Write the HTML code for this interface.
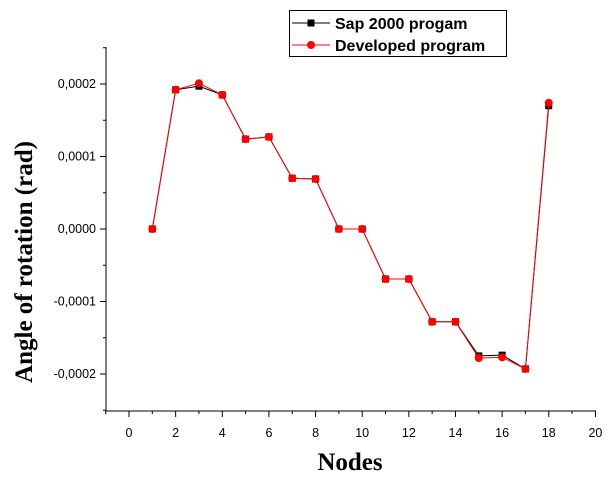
<!DOCTYPE html>
<html><head><meta charset="utf-8"><style>
body{margin:0;background:#fff;width:608px;height:482px;overflow:hidden}
text{font-family:"Liberation Sans",sans-serif}
text.serif{font-family:"Liberation Serif",serif}
</style></head><body>
<svg id="c" width="608" height="482"></svg>
<script>
const nodes=[1,2,3,4,5,6,7,8,9,10,11,12,13,14,15,16,17,18];
const sapValues=[0,0.000192,0.000197,0.000185,0.000124,0.000127,0.00007,0.000069,0,0,-0.000069,-0.000069,-0.000128,-0.000128,-0.000175,-0.000174,-0.000193,0.00017];
const devValues=[0,0.000192,0.000201,0.000185,0.000124,0.000127,0.00007,0.000069,0,0,-0.000069,-0.000069,-0.000128,-0.000128,-0.000178,-0.000177,-0.000193,0.000174];
const xTicks=[0,2,4,6,8,10,12,14,16,18,20];
const yTicks=[-0.0002,-0.0001,0,0.0001,0.0002];
const yLabels=["-0,0002","-0,0001","0,0000","0,0001","0,0002"];
const NS="http://www.w3.org/2000/svg";
const svg=document.getElementById('c');
const X=v=>129+(v)*23.32;
const Y=v=>229-v*725000;
function el(t,a,p){const e=document.createElementNS(NS,t);for(const k in a)e.setAttribute(k,a[k]);(p||svg).appendChild(e);return e;}
const L=106,B=411,R=596,T=47;
let a=el('line',{x1:L,y1:T,x2:L,y2:B,stroke:'#000'});


a=el('line',{x1:L,y1:B,x2:R,y2:B,stroke:'#000'});


for(let v=-1;v<=20;v++){const big=v%2==0;el('line',{x1:X(v),y1:B,x2:X(v),y2:B+(big?6:3),stroke:'#000'});}
xTicks.forEach(v=>{const t=el('text',{x:X(v),y:B+26,'text-anchor':'middle','font-size':12.5});t.textContent=v;

});
for(let i=-5;i<=5;i++){const v=i*0.00005;el('line',{x1:L,y1:Y(v),x2:L-(i%2==0?6:3),y2:Y(v),stroke:'#000'});}
yTicks.forEach((v,i)=>{const t=el('text',{x:L-10,y:Y(v)+4,'text-anchor':'end','font-size':12.5});t.textContent=yLabels[i];

});
let t=el('text',{x:350,y:470,'text-anchor':'middle','font-size':25,'font-weight':'bold','class':'serif'});t.textContent='Nodes';


t=el('text',{x:0,y:0,'text-anchor':'middle','font-size':25,'font-weight':'bold','class':'serif',transform:'translate(32,262) rotate(-90)'});t.textContent='Angle of rotation  (rad)';


function series(vals,color,sq,name){
 const g=el('g',{});
 
 
 el('polyline',{points:nodes.map((n,i)=>X(n)+','+Y(vals[i])).join(' '),fill:'none',stroke:color,'stroke-width':1},g);
 nodes.forEach((n,i)=>{
  const m=sq?el('rect',{x:X(n)-3.5,y:Y(vals[i])-3.5,width:7,height:7,fill:color},g):el('circle',{cx:X(n),cy:Y(vals[i]),r:4,fill:color},g);
  
  
 });
}
series(sapValues,'#000',true,'series-sap2000');
series(devValues,'#f00',false,'series-developed');
const lg=el('g',{});


el('rect',{x:289.5,y:10.5,width:217,height:46,fill:'#fff',stroke:'#000'},lg);
el('line',{x1:292,y1:23,x2:330,y2:23,stroke:'#000'},lg);
el('rect',{x:307.5,y:19.5,width:7,height:7,fill:'#000'},lg);
el('line',{x1:292,y1:45,x2:330,y2:45,stroke:'#f00'},lg);
el('circle',{cx:311,cy:45,r:4,fill:'#f00'},lg);
t=el('text',{x:335,y:29,'font-size':16,'font-weight':'bold'},lg);t.textContent='Sap 2000 progam';


t=el('text',{x:335,y:51,'font-size':16,'font-weight':'bold'},lg);t.textContent='Developed program';


</script>
</body></html>
